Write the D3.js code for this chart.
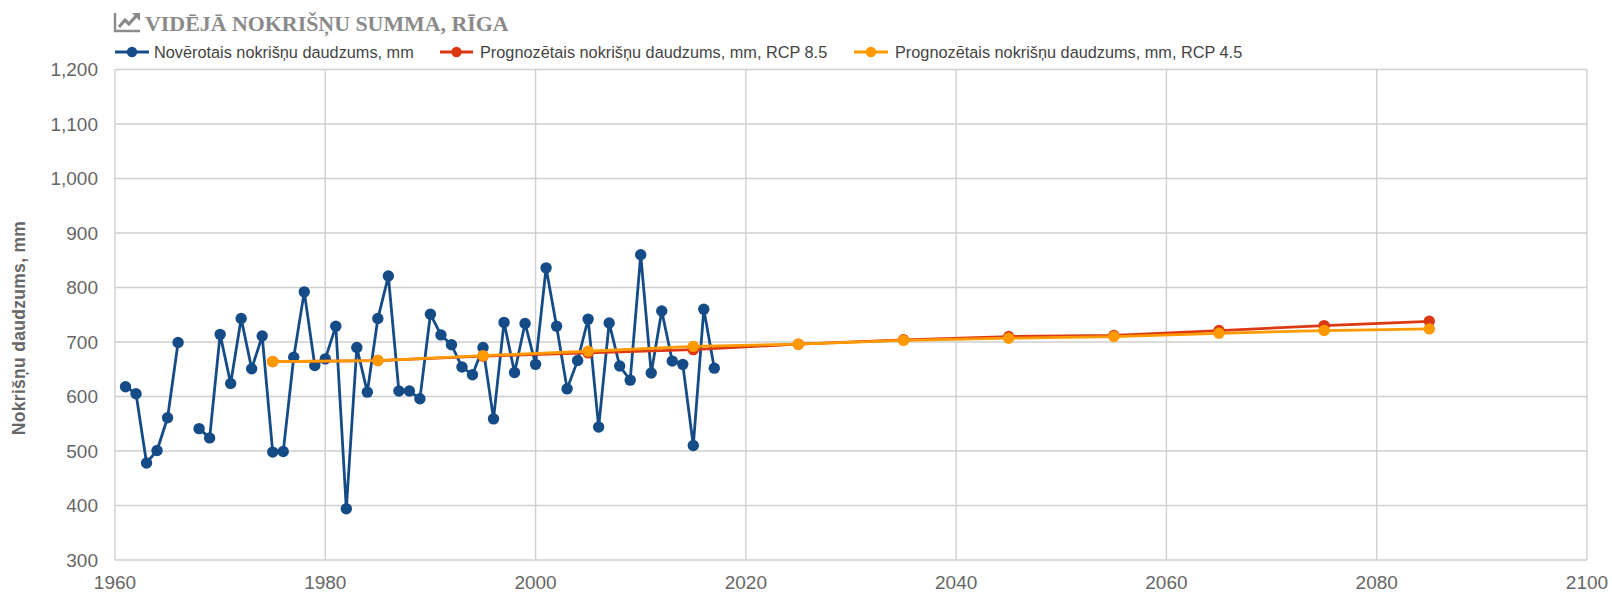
<!DOCTYPE html>
<html>
<head>
<meta charset="utf-8">
<script src="https://cdn.jsdelivr.net/npm/d3@7"></script>
<style>
html,body{margin:0;padding:0;background:#fff;}
svg{display:block;}
text{font-family:"Liberation Sans",Arial,sans-serif;}
</style>
</head>
<body>
<svg id="chart" width="1612" height="593"></svg>
<script>
const chartTitle = "VIDĒJĀ NOKRIŠŅU SUMMA, RĪGA";
const yAxisTitle = "Nokrišņu daudzums, mm";
const seriesNames = ["Novērotais nokrišņu daudzums, mm","Prognozētais nokrišņu daudzums, mm, RCP 8.5","Prognozētais nokrišņu daudzums, mm, RCP 4.5"];
const seriesColors = ["#154c87","#dc3912","#ff9900"];
const xTicks = [1960,1980,2000,2020,2040,2060,2080,2100];
const yTicks = [300,400,500,600,700,800,900,1000,1100,1200];
const obsYears = d3.range(1961,2018);
const obsValues = [618,605,478,501,561,699,null,541,524,714,624,743,651,711,498,499,672,792,657,669,729,394,690,608,743,821,610,610,596,
  751,713,695,654,640,690,559,736,644,734,659,836,729,614,666,742,544,735,656,630,860,643,757,665,659,510,760,652];
const projYears = [1975,1985,1995,2005,2015,2025,2035,2045,2055,2065,2075,2085];
const rcp85 = [664,666,674,680,686,696,704,710,712,721,730,738];
const rcp45 = [664,666,675,683,692,696,703,707,710,716,721,724];

const svg = d3.select("#chart");
const x = d3.scaleLinear().domain([1960,2100]).range([115,1587]);
const y = d3.scaleLinear().domain([300,1200]).range([560,69.5]);
const tickColor = "#666", gridColor = "#cfcfcf";

// grid
svg.append("g").selectAll("line").data(yTicks).join("line")
  .attr("x1",x(1960)).attr("x2",x(2100)).attr("y1",d=>y(d)).attr("y2",d=>y(d))
  .attr("stroke",gridColor).attr("stroke-width",1.4);
svg.append("g").selectAll("line").data(xTicks).join("line")
  .attr("y1",y(300)).attr("y2",y(1200)).attr("x1",d=>x(d)).attr("x2",d=>x(d))
  .attr("stroke",gridColor).attr("stroke-width",1.4);

// tick labels
svg.append("g").selectAll("text").data(yTicks).join("text")
  .attr("x",98).attr("y",d=>y(d)).attr("dy","0.36em").attr("text-anchor","end")
  .attr("font-size",19).attr("fill",tickColor).text(d3.format(","));
svg.append("g").selectAll("text").data(xTicks).join("text")
  .attr("x",d=>x(d)).attr("y",582).attr("dy","0.36em").attr("text-anchor","middle")
  .attr("font-size",19).attr("fill",tickColor).text(d=>String(d));

// axis title
svg.append("text").attr("transform","translate(19,328) rotate(-90)")
  .attr("dy","0.36em").attr("text-anchor","middle")
  .attr("font-size",17.5).attr("font-weight","bold").attr("letter-spacing",0.3)
  .attr("fill",tickColor).text(yAxisTitle);

// series
const line = d3.line().defined(d=>d[1]!==null).x(d=>x(d[0])).y(d=>y(d[1]));
function drawSeries(years, values, color){
  const pts = years.map((yr,i)=>[yr,values[i]]);
  const g = svg.append("g");
  g.append("path").datum(pts).attr("d",line).attr("fill","none")
    .attr("stroke",color).attr("stroke-width",2.8).attr("stroke-linejoin","round");
  g.selectAll("circle").data(pts.filter(d=>d[1]!==null)).join("circle")
    .attr("cx",d=>x(d[0])).attr("cy",d=>y(d[1])).attr("r",5.7).attr("fill",color);
}
drawSeries(obsYears,obsValues,seriesColors[0]);
drawSeries(projYears,rcp85,seriesColors[1]);
drawSeries(projYears,rcp45,seriesColors[2]);

// legend
const legendX = [[115,149,154],[440,473,480],[854,888,895]];
seriesNames.forEach((name,i)=>{
  const [a,b,t] = legendX[i];
  svg.append("line").attr("x1",a).attr("x2",b).attr("y1",52).attr("y2",52)
    .attr("stroke",seriesColors[i]).attr("stroke-width",2.8);
  svg.append("circle").attr("cx",(a+b)/2).attr("cy",52).attr("r",5.2).attr("fill",seriesColors[i]);
  svg.append("text").attr("x",t).attr("y",52).attr("dy","0.36em")
    .attr("font-size",16.3).attr("fill","#444").text(name);
});

// title + icon
const icon = svg.append("g").attr("fill","none").attr("stroke","#8a8a8a");
icon.append("path").attr("d","M115 13V31H140").attr("stroke-width",2.4);
icon.append("path").attr("d","M119 27L125 20L129 24L137 15").attr("stroke-width",3.2);
icon.append("path").attr("d","M132 13H140V21Z").attr("fill","#8a8a8a").attr("stroke","none");
svg.append("text").attr("x",145).attr("y",23).attr("dy","0.36em")
  .style("font-family","'Liberation Serif',serif")
  .attr("font-size",21.9).attr("font-weight","bold").attr("fill","#8a8a8a").text(chartTitle);
</script>
</body>
</html>
